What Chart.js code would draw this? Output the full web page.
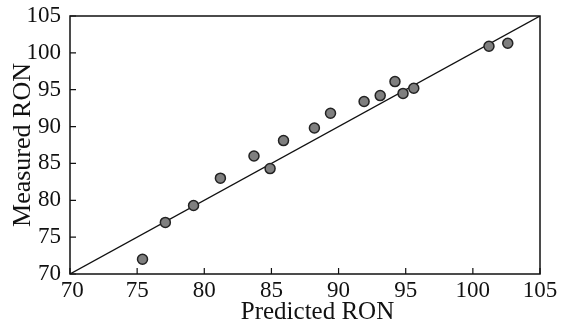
<!DOCTYPE html>
<html>
<head>
<meta charset="utf-8">
<script src="https://cdn.jsdelivr.net/npm/chart.js@4.4.1/dist/chart.umd.min.js"></script>
<style>
html,body{margin:0;padding:0;background:#fff;}
#wrap{width:572px;height:327px;}
</style>
</head>
<body>
<div id="wrap"><canvas id="c" width="572" height="327"></canvas></div>
<script>
const predicted = [75.4, 77.1, 79.2, 81.2, 83.7, 84.9, 85.9, 88.2, 89.4, 91.9, 93.1, 94.2, 94.8, 95.6, 101.2, 102.6];
const measured  = [72.0, 77.0, 79.3, 83.0, 86.0, 84.3, 88.1, 89.8, 91.8, 93.4, 94.2, 96.1, 94.5, 95.2, 100.9, 101.3];
const fitLine = [70, 105];
const axisTicks = [70, 75, 80, 85, 90, 95, 100, 105];

const serif = "'Liberation Serif', 'DejaVu Serif', serif";

const framePlugin = {
  id: 'frame',
  afterDraw(chart) {
    const {ctx, chartArea: a, scales: {x, y}} = chart;
    ctx.save();
    ctx.strokeStyle = '#111';
    ctx.lineWidth = 1.5;
    ctx.strokeRect(a.left, a.top, a.right - a.left, a.bottom - a.top);
    ctx.lineWidth = 1.2;
    ctx.beginPath();
    axisTicks.forEach(v => {
      const px = x.getPixelForValue(v);
      ctx.moveTo(px, a.bottom); ctx.lineTo(px, a.bottom - 6);
      const py = y.getPixelForValue(v);
      ctx.moveTo(a.left, py); ctx.lineTo(a.left + 6, py);
    });
    ctx.stroke();
    ctx.restore();
  }
};

new Chart(document.getElementById('c'), {
  type: 'scatter',
  data: {
    datasets: [
      {
        data: fitLine.map(v => ({x: v, y: v})),
        showLine: true,
        borderColor: '#111',
        borderWidth: 1.3,
        pointRadius: 0,
        order: 2
      },
      {
        data: predicted.map((p, i) => ({x: p, y: measured[i]})),
        backgroundColor: '#7f7f7f',
        borderColor: '#222',
        borderWidth: 1.5,
        pointRadius: 5,
        order: 1
      }
    ]
  },
  options: {
    responsive: false,
    animation: false,
    events: [],
    layout: {padding: {top: 16, right: 32, left: 0, bottom: 0}},
    plugins: {legend: {display: false}, tooltip: {enabled: false}},
    scales: {
      x: {
        type: 'linear', min: 70, max: 105,
        afterFit(s) { s.height = 53; s.paddingLeft = 0; s.paddingRight = 0; },
        afterBuildTicks(s) { s.ticks = axisTicks.map(v => ({value: v})); },
        grid: {display: false, drawTicks: false},
        border: {display: false},
        ticks: {color: '#111', font: {family: serif, size: 23}, padding: 3, maxRotation: 0, autoSkip: false,
                callback: v => v === 70 ? '\u2009' + v : String(v)},
        title: {display: true, text: '\u2003Predicted RON', color: '#111', font: {family: serif, size: 25}, padding: {top: 0, bottom: 0}}
      },
      y: {
        type: 'linear', min: 70, max: 105,
        afterFit(s) { s.width = 70; s.paddingTop = 0; s.paddingBottom = 0; },
        afterBuildTicks(s) { s.ticks = axisTicks.map(v => ({value: v})); },
        grid: {display: false, drawTicks: false},
        border: {display: false},
        ticks: {color: '#111', font: {family: serif, size: 23}, padding: 9, autoSkip: false},
        title: {display: true, text: 'Measured RON', color: '#111', font: {family: serif, size: 26}, padding: {top: 8, bottom: 0}}
      }
    }
  },
  plugins: [framePlugin]
});
</script>
</body>
</html>
